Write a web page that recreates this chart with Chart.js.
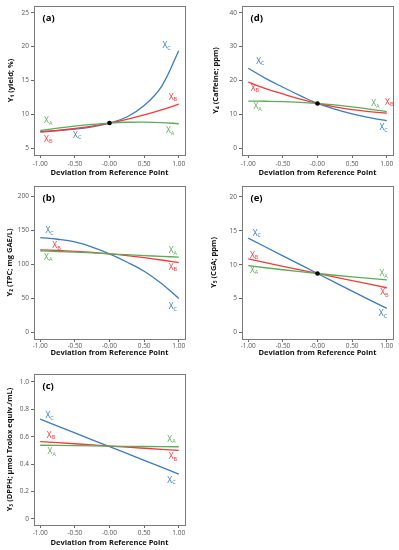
<!DOCTYPE html>
<html><head><meta charset="utf-8">
<script src="https://cdn.jsdelivr.net/npm/chart.js@4.4.1/dist/chart.umd.min.js"></script>
<style>
html,body{margin:0;padding:0;background:#fff;}
#wrap{position:relative;width:399px;height:550px;overflow:hidden;background:#fff;}
canvas{position:absolute;}
</style></head><body>
<div id="wrap">
<canvas id="pa"></canvas><canvas id="pd"></canvas>
<canvas id="pb"></canvas><canvas id="pe"></canvas>
<canvas id="pc"></canvas>
</div>
<script>
// ---------- data ----------
const xs9 = [-1, -0.75, -0.5, -0.25, 0, 0.25, 0.5, 0.75, 1];
const xs5 = [-1, -0.5, 0, 0.5, 1];
const xTickValues = [-1, -0.5, 0, 0.5, 1];
const xTickLabels = ['-1.00', '-0.50', '-0.00', '0.50', '1.00'];

// (a) Y1 yield %
const yieldXA = [7.6, 7.95, 8.25, 8.5, 8.7, 8.82, 8.85, 8.78, 8.6];
const yieldXB = [7.35, 7.6, 7.9, 8.25, 8.7, 9.25, 9.9, 10.65, 11.5];
const yieldXC = [7.45, 7.58, 7.8, 8.15, 8.7, 9.6, 11.3, 14.1, 19.4];
const yieldRef = 8.7;
const yieldTicks = [5, 10, 15, 20, 25];
const yieldTickLabels = ['5', '10', '15', '20', '25'];
const yieldNotes = [['C', 0.80, 20.1], ['B', 0.89, 12.5], ['A', -0.91, 9.0], ['B', -0.91, 6.3], ['C', -0.49, 6.9], ['A', 0.85, 7.6]];

// (b) Y2 TPC mg GAE/L
const tpcXA = [120, 119, 118, 117, 115.5, 114.3, 113, 111.8, 110.8];
const tpcXB = [121.5, 120.5, 119.2, 117.6, 115.5, 113, 110, 106.5, 102.5];
const tpcXC = [139.5, 137, 133, 125.5, 115.5, 103.5, 90, 72, 50];
const tpcTicks = [0, 50, 100, 150, 200];
const tpcTickLabels = ['0', '50', '100', '150', '200'];
const tpcNotes = [['C', -0.89, 149.5], ['B', -0.79, 127.7], ['A', -0.91, 110.7], ['A', 0.89, 120.4], ['B', 0.89, 96], ['C', 0.89, 37.9]];

// (c) Y3 DPPH
const dpphXA = [0.538, 0.535, 0.531, 0.529, 0.527];
const dpphXB = [0.565, 0.549, 0.532, 0.516, 0.500];
const dpphXC = [0.728, 0.628, 0.528, 0.428, 0.328];
const dpphTicks = [0, 0.2, 0.4, 0.6, 0.8, 1.0];
const dpphTickLabels = ['0', '0.2', '0.4', '0.6', '0.8', '1.0'];
const dpphNotes = [['C', -0.89, 0.752], ['B', -0.87, 0.612], ['A', -0.86, 0.49], ['A', 0.87, 0.583], ['B', 0.89, 0.456], ['C', 0.87, 0.282]];

// (d) Y4 caffeine ppm
const cafXA = [13.9, 13.85, 13.75, 13.5, 13.2, 12.75, 12.2, 11.55, 10.8];
const cafXB = [19.5, 17.6, 16.0, 14.5, 13.2, 12.2, 11.4, 10.8, 10.3];
const cafXC = [23.6, 20.6, 18.0, 15.5, 13.2, 11.5, 10.1, 9.0, 8.1];
const cafRef = 13.2;
const cafTicks = [0, 10, 20, 30, 40];
const cafTickLabels = ['0', '10', '20', '30', '40'];
const cafNotes = [['C', -0.85, 25.7], ['B', -0.93, 17.7], ['A', -0.89, 12.2], ['A', 0.81, 13.2], ['B', 1.01, 13.5], ['C', 0.93, 6.1]];

// (e) Y5 CGA ppm
const cgaXA = [9.85, 9.25, 8.7, 8.2, 7.75];
const cgaXB = [10.85, 9.75, 8.7, 7.65, 6.6];
const cgaXC = [13.9, 11.3, 8.7, 6.1, 3.55];
const cgaRef = 8.7;
const cgaTicks = [0, 5, 10, 15, 20];
const cgaTickLabels = ['0', '5', '10', '15', '20'];
const cgaNotes = [['C', -0.90, 14.65], ['B', -0.94, 11.4], ['A', -0.94, 9.15], ['A', 0.93, 8.7], ['B', 0.94, 5.9], ['C', 0.92, 2.8]];

// ---------- style ----------
const COLORS = { A: '#5cab5a', B: '#f23a3c', C: '#3b7bbb' };
const FONT = "'Open Sans', 'DejaVu Sans', sans-serif";

const panels = [
  { id: 'pa', tag: '(a)', title: 'Y\u2081 (yield; %)', x: xs9, A: yieldXA, B: yieldXB, C: yieldXC, ref: yieldRef,
    ticks: yieldTicks, tickLabels: yieldTickLabels, notes: yieldNotes, yMin: 3.98, yMax: 26.02,
    g: { left: 0, top: 0, w: 195, h: 180, yW: 34, padT: 4, padR: 10, padB: 2.5, xH: 22.5, xPad: 2, yTitlePad: 6 } },
  { id: 'pd', tag: '(d)', title: 'Y\u2084 (Caffeine; ppm)', x: xs9, A: cafXA, B: cafXB, C: cafXC, ref: cafRef,
    ticks: cafTicks, tickLabels: cafTickLabels, notes: cafNotes, yMin: -2.04, yMax: 42.04,
    g: { left: 200, top: 0, w: 199, h: 180, yW: 42, padT: 4, padR: 6, padB: 2.5, xH: 22.5, xPad: 2, yTitlePad: 11 } },
  { id: 'pb', tag: '(b)', title: 'Y\u2082 (TPC; mg GAE/L)', x: xs9, A: tpcXA, B: tpcXB, C: tpcXC, ref: null,
    ticks: tpcTicks, tickLabels: tpcTickLabels, notes: tpcNotes, yMin: -9.7, yMax: 215.5,
    g: { left: 0, top: 180, w: 195, h: 180, yW: 34, padT: 4, padR: 10, padB: 2.5, xH: 18.5, xPad: 0.5, yTitlePad: 5.5 } },
  { id: 'pe', tag: '(e)', title: 'Y\u2085 (CGA; ppm)', x: xs5, A: cgaXA, B: cgaXB, C: cgaXC, ref: cgaRef,
    ticks: cgaTicks, tickLabels: cgaTickLabels, notes: cgaNotes, yMin: -0.95, yMax: 21.6,
    g: { left: 200, top: 180, w: 199, h: 180, yW: 42, padT: 4, padR: 6, padB: 2.5, xH: 18.5, xPad: 0.5, yTitlePad: 9 } },
  { id: 'pc', tag: '(c)', title: 'Y\u2083 (DPPH; \u03bcmol Trolox equiv./mL)', x: xs5, A: dpphXA, B: dpphXB, C: dpphXC, ref: null,
    ticks: dpphTicks, tickLabels: dpphTickLabels, notes: dpphNotes, yMin: -0.044, yMax: 1.058,
    g: { left: 0, top: 360, w: 195, h: 190, yW: 34, padT: 14, padR: 10, padB: 2.5, xH: 22.5, xPad: 1.5, yTitlePad: 5.5 } }
];

function pts(xv, yv) { return xv.map((x, i) => ({ x: x, y: yv[i] })); }

const decoPlugin = {
  id: 'deco',
  afterDatasetsDraw(chart) {
    const p = chart.options.plugins.deco.panel;
    const ctx = chart.ctx, a = chart.chartArea;
    const xs = chart.scales.x, ys = chart.scales.y;
    ctx.save();
    // series labels
    p.notes.forEach(n => {
      const px = xs.getPixelForValue(n[1]), py = ys.getPixelForValue(n[2]);
      ctx.fillStyle = COLORS[n[0]];
      ctx.font = '8.5px ' + FONT;
      ctx.textAlign = 'center'; ctx.textBaseline = 'middle';
      ctx.fillText('X', px, py);
      const w = ctx.measureText('X').width;
      ctx.font = '5.5px ' + FONT;
      ctx.textAlign = 'left';
      ctx.fillText(n[0], px + w / 2, py + 2.5);
    });
    // box
    ctx.strokeStyle = '#7a7a7a'; ctx.lineWidth = 1;
    ctx.strokeRect(Math.round(a.left) + 0.5, Math.round(a.top) + 0.5, Math.round(a.right - a.left), Math.round(a.bottom - a.top));
    // panel tag
    ctx.fillStyle = '#000'; ctx.font = 'bold 9.5px ' + FONT;
    ctx.textAlign = 'left'; ctx.textBaseline = 'middle';
    ctx.fillText(p.tag, a.left + 8.5, a.top + 12);
    ctx.restore();
  }
};

panels.forEach(p => {
  const g = p.g;
  const cv = document.getElementById(p.id);
  cv.width = g.w; cv.height = g.h;
  cv.style.left = g.left + 'px'; cv.style.top = g.top + 'px';
  cv.style.width = g.w + 'px'; cv.style.height = g.h + 'px';
  const lineDs = (key) => ({
    data: pts(p.x, p[key]), showLine: true, borderColor: COLORS[key], backgroundColor: COLORS[key],
    borderWidth: 1.3, pointRadius: 0, tension: 0.4, fill: false
  });
  const datasets = [];
  if (p.ref !== null) {
    datasets.push({ data: [{ x: 0, y: p.ref }], showLine: false, pointRadius: 2.3, pointBackgroundColor: '#000', pointBorderColor: '#000', borderWidth: 0 });
  }
  datasets.push(lineDs('A'), lineDs('B'), lineDs('C'));
  new Chart(cv, {
    type: 'scatter',
    data: { datasets: datasets },
    plugins: [decoPlugin],
    options: {
      responsive: false, animation: false, devicePixelRatio: 1,
      layout: { padding: { top: g.padT, right: g.padR, bottom: g.padB, left: 0 } },
      plugins: { legend: { display: false }, tooltip: { enabled: false }, deco: { panel: p } },
      scales: {
        x: {
          type: 'linear', min: -1.09, max: 1.09,
          afterBuildTicks: s => { s.ticks = xTickValues.map(v => ({ value: v })); },
          afterFit: s => { s.height = g.xH; },
          ticks: { color: '#555', font: { family: FONT, size: 6.5 }, padding: g.xPad, maxRotation: 0, autoSkip: false,
            callback: (v, i) => xTickLabels[i] },
          grid: { drawOnChartArea: false, drawTicks: true, tickLength: 3, color: '#666', lineWidth: 1 },
          border: { display: false },
          title: { display: true, text: 'Deviation from Reference Point', color: '#111',
            font: { family: FONT, size: 7.5, weight: 'bold', lineHeight: 1.2 }, padding: { top: 0, bottom: 0 } }
        },
        y: {
          type: 'linear', min: p.yMin, max: p.yMax,
          afterBuildTicks: s => { s.ticks = p.ticks.map(v => ({ value: v })); },
          afterFit: s => { s.width = g.yW; },
          ticks: { color: '#555', font: { family: FONT, size: 6.5 }, padding: 2, autoSkip: false,
            callback: (v, i) => p.tickLabels[i] },
          grid: { drawOnChartArea: false, drawTicks: true, tickLength: 3, color: '#666', lineWidth: 1 },
          border: { display: false },
          title: { display: true, text: p.title, color: '#111',
            font: { family: FONT, size: 7.5, weight: 'bold', lineHeight: 1.2 }, padding: { top: g.yTitlePad, bottom: 0 } }
        }
      }
    }
  });
});
</script>
</body></html>
